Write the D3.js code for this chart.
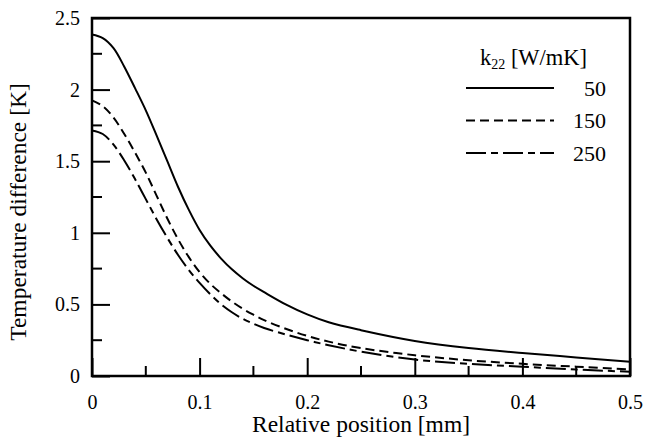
<!DOCTYPE html>
<html>
<head>
<meta charset="utf-8">
<script src="https://cdn.jsdelivr.net/npm/d3@7"></script>
<style>
	body { margin: 0; background: white; }
	svg text { font-family: 'Liberation Serif', 'Times New Roman', 'DejaVu Serif', serif; fill: black; }
</style>
</head>
<body>
<svg width="646" height="439"></svg>
<script>
// relative position [mm]
let positions = [0, 0.01, 0.02, 0.03, 0.04, 0.05, 0.06, 0.07, 0.08, 0.09, 0.10, 0.11, 0.12, 0.13, 0.14, 0.15, 0.16, 0.18, 0.20, 0.22, 0.25, 0.30, 0.35, 0.40, 0.45, 0.50];

// temperature difference [K] for each k22
let k50 = [2.385, 2.36, 2.29, 2.16, 2.01, 1.855, 1.68, 1.50, 1.32, 1.16, 1.02, 0.91, 0.82, 0.745, 0.683, 0.63, 0.585, 0.50, 0.43, 0.375, 0.32, 0.245, 0.195, 0.16, 0.13, 0.10];
let k150 = [1.925, 1.885, 1.805, 1.69, 1.56, 1.42, 1.26, 1.10, 0.955, 0.83, 0.725, 0.643, 0.578, 0.52, 0.47, 0.428, 0.39, 0.33, 0.28, 0.24, 0.195, 0.145, 0.11, 0.085, 0.065, 0.045];
let k250 = [1.715, 1.69, 1.615, 1.505, 1.375, 1.235, 1.095, 0.965, 0.845, 0.74, 0.65, 0.57, 0.50, 0.445, 0.40, 0.365, 0.335, 0.29, 0.25, 0.215, 0.17, 0.115, 0.085, 0.065, 0.045, 0.03];

let series_names = ['50', '150', '250'];
let x_ticks = [0, 0.1, 0.2, 0.3, 0.4, 0.5];
let y_ticks = [0, 0.5, 1, 1.5, 2, 2.5];

let dash_style = {
	'50': null,
	'150': '9,5',
	'250': '20,5,7,5'
};

let svg = d3.select('svg');

let margin = { 'top': 18, 'right': 16, 'bottom': 63, 'left': 92 };
let width = +svg.attr('width') - margin.left - margin.right;
let height = +svg.attr('height') - margin.top - margin.bottom;

let chart = svg
	.append('g')
	.attr('transform', 'translate(' + margin.left + ', ' + margin.top + ')');

let x = d3
	.scaleLinear()
	.domain([0, 0.5])
	.range([0, width]);

let y = d3
	.scaleLinear()
	.domain([0, 2.5])
	.range([height, 0]);

// minor ticks (inward)
let xMinor = d3.range(0.05, 0.5, 0.1);
let yMinor = d3.range(0.25, 2.5, 0.5);

chart
	.append('g')
	.selectAll('line')
	.data(xMinor)
	.enter()
	.append('line')
	.attr('x1', d => x(d))
	.attr('x2', d => x(d))
	.attr('y1', height)
	.attr('y2', height - 10)
	.attr('stroke', 'black')
	.attr('stroke-width', 2);

chart
	.append('g')
	.selectAll('line')
	.data(yMinor)
	.enter()
	.append('line')
	.attr('x1', 0)
	.attr('x2', 10)
	.attr('y1', d => y(d))
	.attr('y2', d => y(d))
	.attr('stroke', 'black')
	.attr('stroke-width', 2);

// major ticks + labels
let xAxis = d3
	.axisBottom(x)
	.tickValues(x_ticks)
	.tickSize(-18)
	.tickFormat(d3.format('.1~f'));

let yAxis = d3
	.axisLeft(y)
	.tickValues(y_ticks)
	.tickSize(-18)
	.tickFormat(d => d == 0 ? '0' : d3.format('.1~f')(d));

let gx = chart
	.append('g')
	.attr('transform', 'translate(0, ' + height + ')')
	.call(xAxis);

let gy = chart
	.append('g')
	.call(yAxis);

[gx, gy].forEach(function(g) {
	g.select('.domain').remove();
	g.selectAll('line')
		.attr('stroke', 'black')
		.attr('stroke-width', 2);
	g.selectAll('text')
		.attr('font-size', 20);
});
gx.selectAll('text').attr('dy', '0.35em').attr('y', 26);
gy.selectAll('text').attr('x', -12);

// frame
chart
	.append('rect')
	.attr('x', 0)
	.attr('y', 0)
	.attr('width', width)
	.attr('height', height)
	.attr('fill', 'none')
	.attr('stroke', 'black')
	.attr('stroke-width', 2.5);

// curves
let all_series = [k50, k150, k250];
let line = d3.line()
	.x(d => x(d[0]))
	.y(d => y(d[1]))
	.curve(d3.curveCatmullRom.alpha(0.5));

all_series.map(function(vals, idx) {
	let pts = positions.map((p, i) => [p, vals[i]]);
	chart
		.append('path')
		.datum(pts)
		.attr('fill', 'none')
		.attr('stroke', 'black')
		.attr('stroke-width', 2)
		.attr('stroke-dasharray', dash_style[series_names[idx]])
		.attr('d', line);
});

// axis titles
svg
	.append('text')
	.attr('x', margin.left + width / 2)
	.attr('y', 432)
	.attr('text-anchor', 'middle')
	.attr('font-size', 23.5)
	.text('Relative position [mm]');

svg
	.append('text')
	.attr('transform', 'translate(26, 212) rotate(-90)')
	.attr('text-anchor', 'middle')
	.attr('font-size', 23.5)
	.text('Temperature difference [K]');

// legend
let legend = svg.append('g');

let title = legend
	.append('text')
	.attr('x', 480)
	.attr('y', 65)
	.attr('font-size', 22.5);
title.append('tspan').text('k');
title.append('tspan').attr('font-size', 14).attr('dy', 4).text('22');
title.append('tspan').attr('dy', -4).text(' [W/mK]');

series_names.map(function(name, idx) {
	let ly = 88 + idx * 32.5;
	legend
		.append('line')
		.attr('x1', 466)
		.attr('x2', 554)
		.attr('y1', ly)
		.attr('y2', ly)
		.attr('stroke', 'black')
		.attr('stroke-width', 2)
		.attr('stroke-dasharray', dash_style[name]);
	legend
		.append('text')
		.attr('x', 606)
		.attr('y', ly)
		.attr('dy', '0.35em')
		.attr('text-anchor', 'end')
		.attr('font-size', 22)
		.text(name);
});
</script>
</body>
</html>
